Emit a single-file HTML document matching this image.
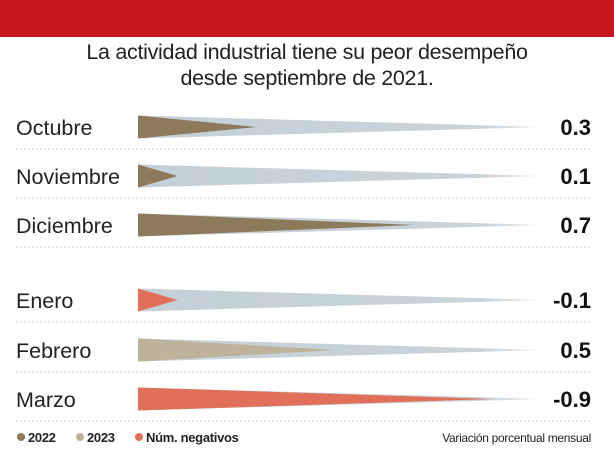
<!DOCTYPE html>
<html><head><meta charset="utf-8"><style>
body{margin:0;width:614px;height:467px;background:#fff;font-family:"Liberation Sans",sans-serif;overflow:hidden;position:relative}
#topbar{position:absolute;left:0;top:0;width:614px;height:37px;background:#c5161d}
#title{position:absolute;left:0;top:39px;width:614px;text-align:center;font-size:21.5px;line-height:26px;color:#222;letter-spacing:-0.3px}
svg{position:absolute;left:0;top:0}
</style></head><body>
<div id="topbar"></div>
<div id="title">La actividad industrial tiene su peor desempeño<br>desde septiembre de 2021.</div>
<svg id="chart" width="614" height="467">
<defs><linearGradient id="gg" x1="0" x2="1"><stop offset="0" stop-color="#c4d0d8"/><stop offset="0.85" stop-color="#c8d3da"/><stop offset="1" stop-color="#e6ecef"/></linearGradient></defs>
</svg>
<script>
const months=["Octubre","Noviembre","Diciembre","Enero","Febrero","Marzo"];
const values=[0.3,0.1,0.7,-0.1,0.5,-0.9];
const years=[2022,2022,2022,2023,2023,2023];
const labels=["0.3","0.1","0.7","-0.1","0.5","-0.9"];
const rowY=[127,176,225,300,350,399];
const x0=138,scale=395,fullLen=404,half=11.5;
const xs=v=>x0+Math.abs(v)*scale;
const ns="http://www.w3.org/2000/svg";
const svg=document.getElementById('chart');
function mk(t,a){const e=document.createElementNS(ns,t);for(const k in a)e.setAttribute(k,a[k]);svg.appendChild(e);return e;}
months.forEach((m,i)=>{
  const y=rowY[i];
  const g=mk('polygon',{points:`${x0},${y-half} ${x0+fullLen},${y} ${x0},${y+half}`,fill:'url(#gg)'});
  
  
  const col=values[i]<0?'#e0705a':(years[i]===2022?'#8c7a5a':'#bfb29b');
  const b=mk('polygon',{points:`${x0},${y-half} ${xs(values[i])},${y} ${x0},${y+half}`,fill:col});
  
  
  const t=mk('text',{x:16,y:y+8,'font-size':21.5,fill:'#222'});t.textContent=m;
  
  
  const v=mk('text',{x:591,y:y+8,'font-size':22,'font-weight':'bold','text-anchor':'end',fill:'#111'});v.textContent=labels[i];
  
  
  const l=mk('line',{x1:16,x2:591,y1:y+22,y2:y+22,stroke:'#ccc','stroke-width':1,'stroke-dasharray':'2 2'});
  
  
});
const leg=[["2022","#8c7a5a",17],["2023","#bfb29b",76],["Núm. negativos","#e0705a",135]];
leg.forEach(([t,c,x])=>{
  const d=mk('circle',{cx:x+4,cy:437,r:4,fill:c});
  
  
  const e=mk('text',{x:x+11,y:442,'font-size':13,'font-weight':'bold',fill:'#222','letter-spacing':'-0.3'});e.textContent=t;
  
  
});
const n=mk('text',{x:591,y:442,'font-size':12,'text-anchor':'end',fill:'#222','letter-spacing':'-0.3'});n.textContent="Variación porcentual mensual";


</script>
</body></html>
